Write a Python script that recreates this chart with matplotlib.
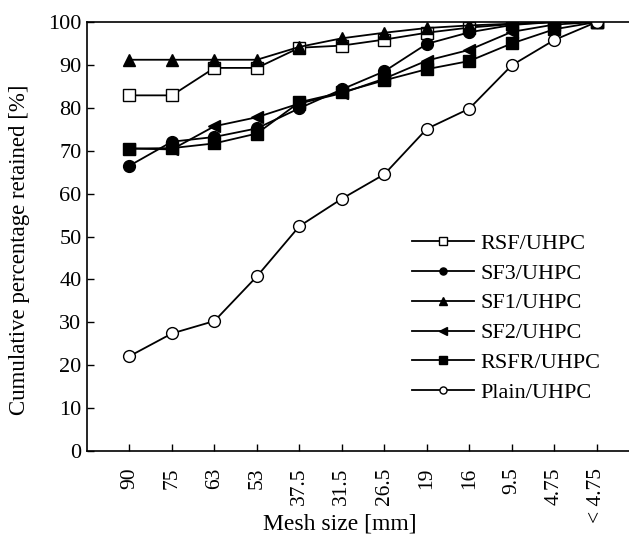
import matplotlib
matplotlib.use('Agg')
import matplotlib.pyplot as plt
import numpy as np

mesh = ["90", "75", "63", "53", "37.5", "31.5", "26.5", "19", "16", "9.5", "4.75", "< 4.75"]

rsf = [82.9, 82.9, 89.3, 89.3, 94.0, 94.5, 95.9, 97.5, 98.7, 99.5, 100, 100]
sf3 = [66.5, 72.1, 73.2, 75.2, 79.9, 84.3, 88.5, 94.9, 97.6, 99.3, 100, 100]
sf1 = [91.2, 91.2, 91.2, 91.2, 94.2, 96.2, 97.5, 98.6, 99.2, 99.6, 100, 100]
sf2 = [70.5, 70.3, 75.7, 77.8, 81.0, 83.4, 86.8, 91.0, 93.5, 97.7, 99.4, 100]
rsfr = [70.5, 70.6, 71.7, 74.0, 81.3, 83.6, 86.4, 89.0, 90.9, 95.0, 98.3, 100]
plain = [22.1, 27.4, 30.3, 40.7, 52.4, 58.8, 64.5, 75.1, 79.8, 89.9, 95.8, 100]

series = [
	("RSF/UHPC", rsf, "s", "white"),
	("SF3/UHPC", sf3, "o", "black"),
	("SF1/UHPC", sf1, "^", "black"),
	("SF2/UHPC", sf2, "<", "black"),
	("RSFR/UHPC", rsfr, "s", "black"),
	("Plain/UHPC", plain, "o", "white"),
]

plt.rcParams['font.family'] = ['Liberation Serif', 'DejaVu Serif']

fig = plt.figure(figsize=(6.29, 5.39), dpi=100)
ax = fig.add_axes([87 / 629, 88 / 539, 542 / 629, 429 / 539])

x = np.arange(1, len(mesh) + 1)
for name, vals, mk, fc in series:
	ax.plot(x, vals, color='black', lw=1.3, marker=mk, markersize=8.5,
		markerfacecolor=fc, markeredgecolor='black', markeredgewidth=1.0,
		label=name)

ax.set_xlim(0, 12.76)
ax.set_ylim(0, 100)
ax.set_yticks(range(0, 101, 10))
ax.set_xticks(x)
ax.set_xticklabels(mesh, rotation=90, fontsize=15.5)
ax.tick_params(axis='y', labelsize=16, pad=4)
ax.tick_params(axis='x', pad=12)
ax.tick_params(direction='in', length=5, width=1)
ax.spines['right'].set_visible(False)
for s in ['left', 'bottom', 'top']:
	ax.spines[s].set_linewidth(1.2)

ax.set_xlabel("Mesh size [mm]", fontsize=17)
ax.xaxis.set_label_coords(0.467, -0.145)
ax.set_ylabel("Cumulative percentage retained [%]", fontsize=16.5)
ax.yaxis.set_label_coords(-0.105, 0.47)

ax.legend(loc='lower right', bbox_to_anchor=(0.985, 0.065), frameon=False,
	fontsize=16, markerscale=0.6, handlelength=2.8, labelspacing=0.42,
	handletextpad=0.3)

plt.savefig("out.png", dpi=100)
plt.close()
